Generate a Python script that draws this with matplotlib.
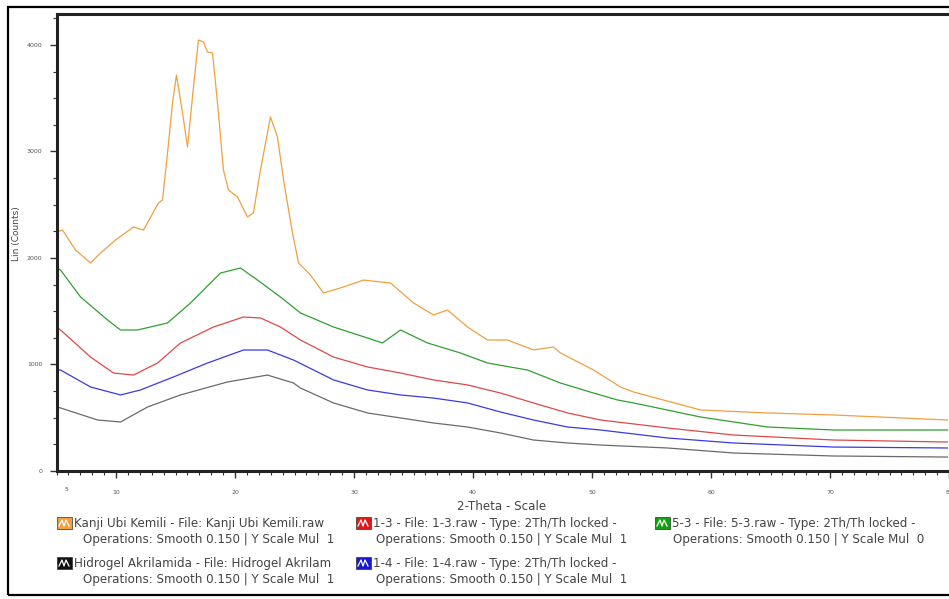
import matplotlib
matplotlib.use("Agg")
import matplotlib.pyplot as plt
from matplotlib.patches import Rectangle
from matplotlib.lines import Line2D
from matplotlib.ticker import MultipleLocator

# XRD scans: 2-theta (deg) vs Lin (Counts)
kanji_x = [5.0, 5.5, 6.6, 7.86, 8.7, 9.96, 11.47, 12.31, 13.57, 13.91, 14.33, 14.75,
           15.08, 15.59, 16.01, 16.51, 16.93, 17.35, 17.69, 18.11, 18.53, 19.03, 19.45,
           20.21, 21.05, 21.55, 22.14, 22.98, 23.57, 24.08, 24.83, 25.34, 26.34, 27.44,
           29.12, 30.8, 33.07, 35.0, 36.68, 37.86, 39.54, 41.22, 42.9, 45.08, 46.76,
           47.35, 50.13, 52.39, 53.49, 59.12, 64.75, 70.29, 79.87]
kanji_y = [2244, 2263, 2075, 1953, 2047, 2169, 2291, 2263, 2517, 2545, 2986, 3456,
           3718, 3362, 3042, 3606, 4047, 4028, 3934, 3925, 3456, 2826, 2638,
           2573, 2385, 2423, 2826, 3324, 3136, 2732, 2235, 1953, 1840, 1671,
           1728, 1793, 1765, 1578, 1465, 1512, 1352, 1230, 1230, 1137, 1164,
           1108, 948, 789, 742, 573, 545, 526, 479]

s53_x = [5.0, 5.34, 7.02, 9.29, 10.38, 11.81, 14.33, 16.26, 18.78, 20.46, 21.89, 23.82,
         25.5, 28.28, 31.13, 32.39, 33.91, 36.18, 38.95, 41.22, 44.58, 47.35, 50.13,
         52.14, 53.49, 59.12, 64.75, 70.29, 79.87]
s53_y = [1906, 1887, 1634, 1418, 1324, 1324, 1390, 1578, 1859, 1906, 1793, 1634,
         1484, 1352, 1249, 1202, 1324, 1202, 1108, 1014, 948, 826, 732,
         667, 639, 507, 413, 385, 385]

s13_x = [5.0, 5.34, 7.86, 9.79, 11.47, 13.49, 15.42, 18.19, 20.71, 22.14, 23.82, 25.5,
         28.28, 31.13, 33.91, 36.68, 39.54, 42.31, 45.08, 47.94, 50.71, 56.34, 61.89,
         70.29, 79.87]
s13_y = [1352, 1324, 1070, 920, 901, 1014, 1202, 1352, 1446, 1437, 1352, 1230,
         1070, 977, 920, 855, 808, 732, 639, 545, 479, 404, 338,
         291, 272]

s14_x = [5.0, 5.34, 7.86, 10.38, 12.06, 14.83, 17.69, 20.71, 22.73, 24.92, 28.28,
         31.13, 33.91, 36.68, 39.54, 42.31, 45.08, 47.94, 50.71, 56.34, 61.89, 70.29, 79.87]
s14_y = [948, 948, 789, 714, 761, 883, 1014, 1136, 1136, 1042, 855,
         761, 714, 685, 639, 554, 479, 413, 385, 310, 263, 225, 216]

hidro_x = [5.0, 5.34, 8.45, 10.38, 12.65, 15.42, 19.37, 22.73, 24.92, 25.5, 28.28,
           31.13, 33.91, 36.68, 39.54, 42.31, 45.08, 47.94, 50.71, 56.34, 61.89, 70.29, 79.87]
hidro_y = [601, 592, 479, 460, 601, 714, 836, 901, 826, 779, 639,
           545, 498, 451, 413, 357, 291, 263, 244, 216, 169, 141, 131]

x_ticks = [10, 20, 30, 40, 50, 60, 70, 80]
y_ticks = [0, 1000, 2000, 3000, 4000]

c_kanji = "#f0a040"
c_53 = "#2fa02f"
c_13 = "#e04848"
c_14 = "#3a3ae0"
c_hidro = "#6a6a6a"

W, H = 949, 599
fig = plt.figure(figsize=(W / 100, H / 100), dpi=100)
ax = fig.add_axes([56.5 / W, (H - 471) / H, (W - 56.5) / W, 457 / H])

ax.plot(hidro_x, hidro_y, color=c_hidro, lw=0.9)
ax.plot(s14_x, s14_y, color=c_14, lw=0.9)
ax.plot(s13_x, s13_y, color=c_13, lw=0.9)
ax.plot(s53_x, s53_y, color=c_53, lw=0.9)
ax.plot(kanji_x, kanji_y, color=c_kanji, lw=0.9)

ax.set_xlim(5, 80)
ax.set_ylim(0, 4291)
ax.set_xticks(x_ticks)
ax.set_yticks(y_ticks)
ax.xaxis.set_minor_locator(MultipleLocator(1))
ax.yaxis.set_minor_locator(MultipleLocator(250))
ax.tick_params(axis="both", which="major", labelsize=4.5, labelcolor="#555555",
               length=5, width=1, color="#333333")
ax.tick_params(axis="both", which="minor", length=3, width=0.8, color="#333333")
ax.tick_params(axis="x", pad=9)
ax.tick_params(axis="y", pad=5)
ax.text(5.8, -170, "5", fontsize=4.5, color="#555555", ha="center", va="center",
        clip_on=False)

for side in ["left", "top", "bottom"]:
    ax.spines[side].set_linewidth(2.2)
    ax.spines[side].set_color("#222222")
ax.spines["right"].set_visible(False)

fig.text(17 / W, 1 - 234 / H, "Lin (Counts)", rotation=90, fontsize=6.5,
         color="#444444", ha="center", va="center")
fig.text(502 / W, 1 - 507 / H, "2-Theta - Scale", fontsize=8.6, color="#444444",
         ha="center", va="center")

# outer frame
fig.add_artist(Rectangle((8 / W, 4 / H), 1.2, 1 - 11 / H, transform=fig.transFigure,
                         fill=False, edgecolor="black", lw=1.6))


def legend_entry(px, py, color, line1, line2, indent):
    x0, y0 = px / W, 1 - (py + 6) / H
    fig.add_artist(Rectangle((x0, y0), 15 / W, 12 / H, transform=fig.transFigure,
                             facecolor=color, edgecolor="#333333", lw=0.5))
    zx = [px + 2, px + 5, px + 7, px + 9, px + 12]
    zy = [py + 3, py - 3, py + 3, py - 3, py + 3]
    fig.add_artist(Line2D([v / W for v in zx], [1 - v / H for v in zy],
                          transform=fig.transFigure, color="white", lw=0.9))
    fig.text((px + 17) / W, 1 - py / H, line1, fontsize=8.6, color="#444444",
             va="center", ha="left")
    fig.text((px + indent) / W, 1 - (py + 17) / H, line2, fontsize=8.6,
             color="#444444", va="center", ha="left")


legend_entry(57, 523, c_kanji, "Kanji Ubi Kemili - File: Kanji Ubi Kemili.raw",
             "Operations: Smooth 0.150 | Y Scale Mul  1", 26)
legend_entry(57, 563, "#111111", "Hidrogel Akrilamida - File: Hidrogel Akrilam",
             "Operations: Smooth 0.150 | Y Scale Mul  1", 26)
legend_entry(356, 523, "#e01818", "1-3 - File: 1-3.raw - Type: 2Th/Th locked -",
             "Operations: Smooth 0.150 | Y Scale Mul  1", 20)
legend_entry(356, 563, "#1818d0", "1-4 - File: 1-4.raw - Type: 2Th/Th locked -",
             "Operations: Smooth 0.150 | Y Scale Mul  1", 20)
legend_entry(655, 523, "#10a010", "5-3 - File: 5-3.raw - Type: 2Th/Th locked -",
             "Operations: Smooth 0.150 | Y Scale Mul  0", 18)

fig.savefig("out.png", dpi=100)
